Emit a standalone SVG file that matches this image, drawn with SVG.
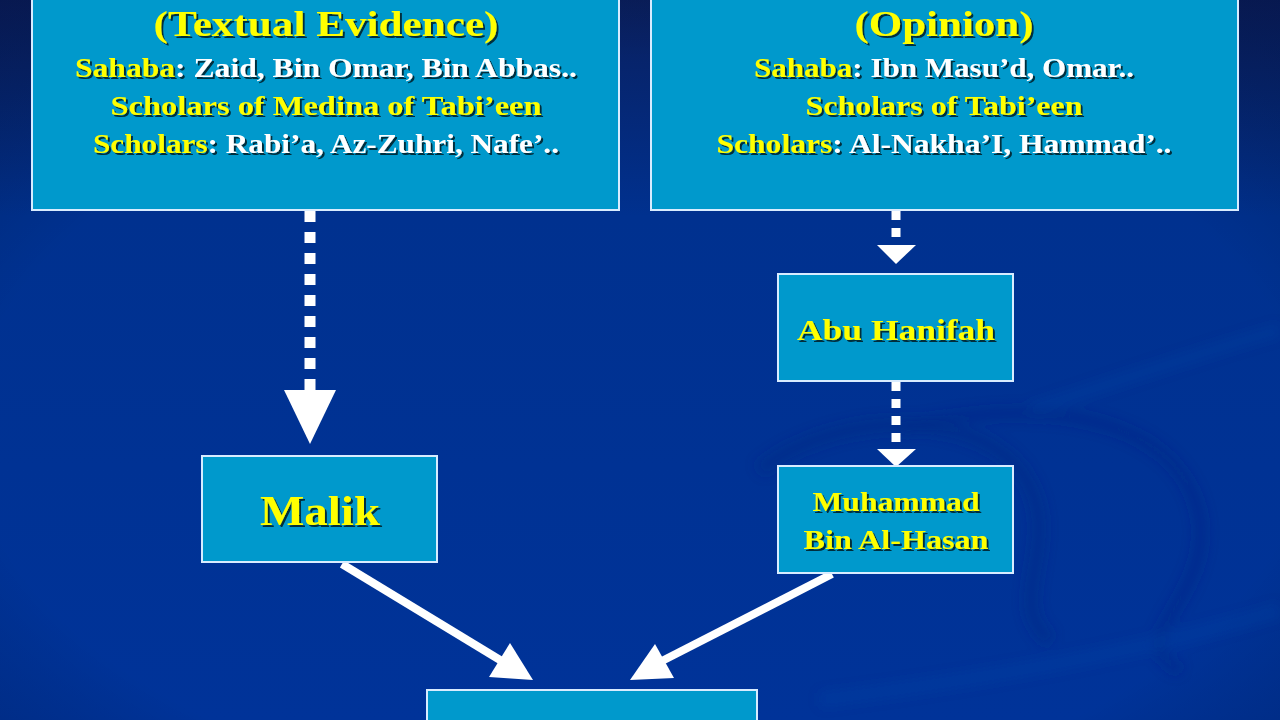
<svg xmlns="http://www.w3.org/2000/svg" width="1280" height="720" viewBox="0 0 1280 720">
<defs>
<linearGradient id="bg" x1="0" y1="0" x2="0" y2="1">
<stop offset="0" stop-color="#0a1f5e"/>
<stop offset="0.3" stop-color="#00318f"/>
<stop offset="1" stop-color="#003399"/>
</linearGradient>
<radialGradient id="vig" cx="0.5" cy="0.6" r="0.8">
<stop offset="0.65" stop-color="#000" stop-opacity="0"/>
<stop offset="1" stop-color="#000830" stop-opacity="0.3"/>
</radialGradient>
<filter id="sh" x="-5%" y="-20%" width="110%" height="140%">
<feDropShadow dx="2" dy="2" stdDeviation="0.6" flood-color="#000" flood-opacity="0.7"/>
</filter>
<filter id="blur"><feGaussianBlur stdDeviation="6"/></filter>
</defs>
<style>
.box{fill:#0099cc;stroke:#d8ecff;stroke-width:2}
.t{font-family:"Liberation Serif","Times New Roman",serif;font-weight:bold;text-anchor:middle;filter:url(#sh)}
.y{fill:#ffff00}
.w{fill:#ffffff}
.dash{stroke:#fff;fill:none}
.solid{stroke:#fff;stroke-width:8;fill:none}
.head{fill:#fff}
</style>
<rect width="1280" height="720" fill="url(#bg)"/>
<rect width="1280" height="720" fill="url(#vig)"/>
<g id="swirl" fill="none" filter="url(#blur)">
<path d="M760 470 C 820 420, 960 400, 1020 470 C 1070 540, 1000 600, 1050 640" stroke="#002a85" stroke-width="14" opacity="0.45"/>
<path d="M1030 410 C 1120 380, 1240 340, 1280 330" stroke="#1a4ab0" stroke-width="12" opacity="0.2"/>
<path d="M900 430 C 1000 400, 1180 400, 1200 520 C 1210 600, 1120 640, 1180 670" stroke="#002a85" stroke-width="12" opacity="0.4"/>
<path d="M820 700 C 980 680, 1150 650, 1280 610" stroke="#1a4ab0" stroke-width="14" opacity="0.2"/>
</g>
<g id="connectors">
<line class="dash" x1="310" y1="211" x2="310" y2="392" stroke-width="11" stroke-dasharray="11 10"/>
<polygon class="head" points="284,390 336,390 310,444"/>
<line class="dash" x1="896" y1="211" x2="896" y2="247" stroke-width="9" stroke-dasharray="9 8"/>
<polygon class="head" points="877,245 916,245 896,264"/>
<line class="dash" x1="896" y1="382" x2="896" y2="452" stroke-width="9" stroke-dasharray="9 8"/>
<polygon class="head" points="877,449 916,449 896,467"/>
<line class="solid" x1="342" y1="564" x2="505" y2="663"/>
<polygon class="head" points="533,680 489,677 510,643"/>
<line class="solid" x1="832" y1="574" x2="660" y2="662"/>
<polygon class="head" points="630,680 674,678 655,644"/>
</g>
<g id="node-textual">
<rect class="box" x="32" y="-10" width="587" height="220"/>
<text class="t y" x="326" y="36" font-size="36" textLength="345" lengthAdjust="spacingAndGlyphs">(Textual Evidence)</text>
<text class="t" x="326" y="77" font-size="28" textLength="502" lengthAdjust="spacingAndGlyphs"><tspan class="y">Sahaba</tspan><tspan class="w">: Zaid, Bin Omar, Bin Abbas..</tspan></text>
<text class="t y" x="326" y="115" font-size="28" textLength="431" lengthAdjust="spacingAndGlyphs">Scholars of Medina of Tabi’een</text>
<text class="t" x="326" y="153" font-size="28" textLength="466" lengthAdjust="spacingAndGlyphs"><tspan class="y">Scholars</tspan><tspan class="w">: Rabi’a, Az-Zuhri, Nafe’..</tspan></text>
</g>
<g id="node-opinion">
<rect class="box" x="651" y="-10" width="587" height="220"/>
<text class="t y" x="944" y="36" font-size="36" textLength="179" lengthAdjust="spacingAndGlyphs">(Opinion)</text>
<text class="t" x="944" y="77" font-size="28" textLength="380" lengthAdjust="spacingAndGlyphs"><tspan class="y">Sahaba</tspan><tspan class="w">: Ibn Masu’d, Omar..</tspan></text>
<text class="t y" x="944" y="115" font-size="28" textLength="277" lengthAdjust="spacingAndGlyphs">Scholars of Tabi’een</text>
<text class="t" x="944" y="153" font-size="28" textLength="455" lengthAdjust="spacingAndGlyphs"><tspan class="y">Scholars</tspan><tspan class="w">: Al-Nakha’I, Hammad’..</tspan></text>
</g>
<g id="node-malik">
<rect class="box" x="202" y="456" width="235" height="106"/>
<text class="t y" x="320" y="525" font-size="42" textLength="120" lengthAdjust="spacingAndGlyphs">Malik</text>
</g>
<g id="node-abuhanifah">
<rect class="box" x="778" y="274" width="235" height="107"/>
<text class="t y" x="896" y="340" font-size="29" textLength="198" lengthAdjust="spacingAndGlyphs">Abu Hanifah</text>
</g>
<g id="node-muhammad">
<rect class="box" x="778" y="466" width="235" height="107"/>
<text class="t y" x="896" y="511" font-size="28" textLength="167" lengthAdjust="spacingAndGlyphs">Muhammad</text>
<text class="t y" x="896" y="549" font-size="28" textLength="185" lengthAdjust="spacingAndGlyphs">Bin Al-Hasan</text>
</g>
<g id="node-bottom">
<rect class="box" x="427" y="690" width="330" height="60"/>
</g>
</svg>
